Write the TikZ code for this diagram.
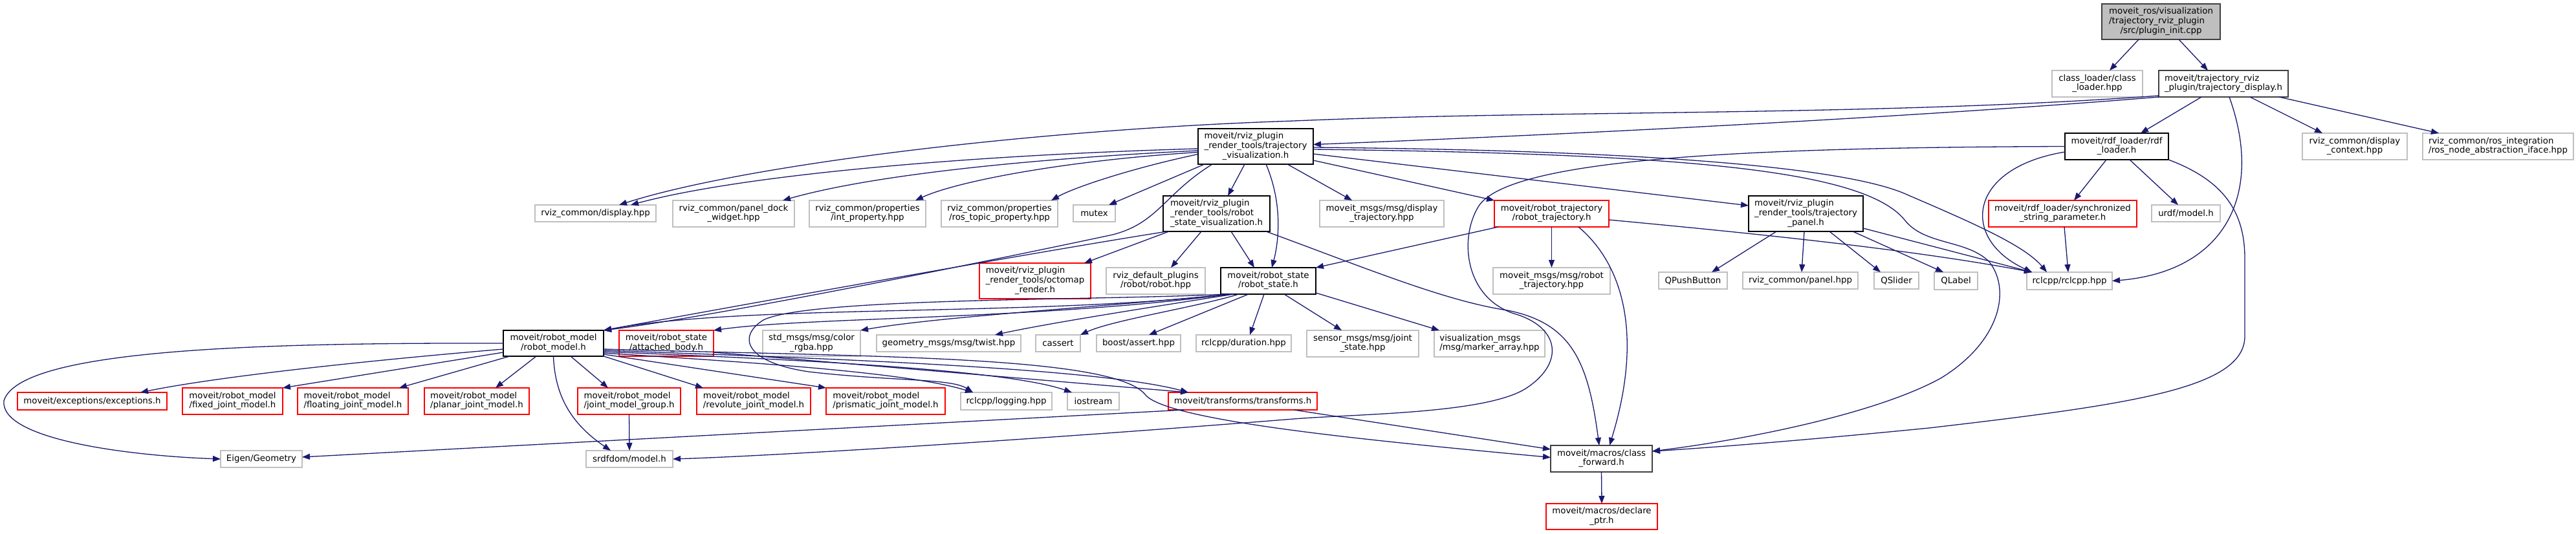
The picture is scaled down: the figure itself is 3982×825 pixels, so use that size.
\documentclass[tikz,border=0pt]{standalone}
\usepackage{fontspec}
\setmainfont{DejaVu Sans}
\usetikzlibrary{arrows.meta}
\definecolor{edgec}{HTML}{191970}
\definecolor{grayb}{HTML}{BFBFBF}
\definecolor{darkb}{HTML}{404040}
\definecolor{mainfill}{HTML}{BFBFBF}
\definecolor{redb}{HTML}{FF0000}
\newcommand\lbtwo[2]{\begin{tabular}{@{}l@{}}#1\\\multicolumn{1}{@{}c@{}}{#2}\end{tabular}}
\newcommand\lbthree[3]{\begin{tabular}{@{}l@{}}#1\\#2\\\multicolumn{1}{@{}c@{}}{#3}\end{tabular}}
\newcommand\mkbox[7]{\node[#1, minimum width={#5-#3}, minimum height={#6-#4}] (#2) at ({(#3+#5)/2},{(#4+#6)/2}) {#7};}
\tikzset{
  nb/.style={draw, rectangle, inner sep=0pt, outer sep=0pt, fill=white, line width=1.3pt,
    font={\fontsize{13.33pt}{14.7pt}\selectfont}},
  gn/.style={nb, draw=grayb, line width=1.5pt},
  bn/.style={nb, draw=black},
  dn/.style={nb, draw=darkb},
  rn/.style={nb, draw=redb},
  mn/.style={nb, draw=darkb, fill=mainfill},
  edg/.style={draw=edgec, line width=1.3pt, -{Triangle[length=12pt,width=9pt]}}
}
\begin{document}
\begin{tikzpicture}[x=1pt,y=-1pt]
\fill[white] (0,0) rectangle (3982,825);
\useasboundingbox (0,0) rectangle (3982,825);
% ---------------- nodes ----------------
\mkbox{mn}{M}{3249}{6}{3432}{61}{\lbthree{moveit\_ros/visualization}{/trajectory\_rviz\_plugin}{/src/plugin\_init.cpp}}
\mkbox{gn}{CL}{3172}{109}{3312}{150}{\lbtwo{class\_loader/class}{\_loader.hpp}}
\mkbox{dn}{TD}{3337}{109}{3537}{150}{\lbtwo{moveit/trajectory\_rviz}{\_plugin/trajectory\_display.h}}
\mkbox{bn}{RL}{3192}{206}{3352}{247}{\lbtwo{moveit/rdf\_loader/rdf}{\_loader.h}}
\mkbox{gn}{DC}{3559}{206}{3721}{247}{\lbtwo{rviz\_common/display}{\_context.hpp}}
\mkbox{gn}{RI}{3745}{206}{3978}{247}{\lbtwo{rviz\_common/ros\_integration}{/ros\_node\_abstraction\_iface.hpp}}
\mkbox{rn}{SS}{3074}{310}{3303}{351}{\lbtwo{moveit/rdf\_loader/synchronized}{\_string\_parameter.h}}
\mkbox{gn}{UM}{3326}{317}{3432}{343}{urdf/model.h}
\mkbox{gn}{RC}{3133}{421}{3265}{448}{rclcpp/rclcpp.hpp}
\mkbox{gn}{QL}{2990}{421}{3057}{448}{QLabel}
\mkbox{gn}{QP}{2564}{421}{2670}{447}{QPushButton}
\mkbox{gn}{PH}{2694}{421}{2872}{447}{rviz\_common/panel.hpp}
\mkbox{gn}{QS}{2897}{421}{2966}{447}{QSlider}
\mkbox{gn}{MRT}{2308}{414}{2489}{455}{\lbtwo{moveit\_msgs/msg/robot}{\_trajectory.hpp}}
\mkbox{gn}{SM}{2020}{511}{2193}{552}{\lbtwo{sensor\_msgs/msg/joint}{\_state.hpp}}
\mkbox{gn}{VM}{2217}{511}{2388}{552}{\lbtwo{visualization\_msgs}{/msg/marker\_array.hpp}}
\mkbox{dn}{CF}{2397}{689}{2554}{730}{\lbtwo{moveit/macros/class}{\_forward.h}}
\mkbox{rn}{DP}{2390}{779}{2562}{819}{\lbtwo{moveit/macros/declare}{\_ptr.h}}
\mkbox{gn}{DT}{2040}{310}{2232}{351}{\lbtwo{moveit\_msgs/msg/display}{\_trajectory.hpp}}
\mkbox{rn}{RT}{2310}{310}{2487}{351}{\lbtwo{moveit/robot\_trajectory}{/robot\_trajectory.h}}
\mkbox{bn}{TP}{2703}{303}{2880}{358}{\lbthree{moveit/rviz\_plugin}{\_render\_tools/trajectory}{\_panel.h}}
\mkbox{bn}{TV}{1852}{199}{2030}{254}{\lbthree{moveit/rviz\_plugin}{\_render\_tools/trajectory}{\_visualization.h}}
\mkbox{gn}{DISP}{827}{317}{1014}{343}{rviz\_common/display.hpp}
\mkbox{gn}{PD}{1040}{310}{1228}{351}{\lbtwo{rviz\_common/panel\_dock}{\_widget.hpp}}
\mkbox{gn}{IP}{1251}{310}{1431}{351}{\lbtwo{rviz\_common/properties}{/int\_property.hpp}}
\mkbox{gn}{RTP}{1455}{310}{1635}{351}{\lbtwo{rviz\_common/properties}{/ros\_topic\_property.hpp}}
\mkbox{gn}{MX}{1659}{317}{1724}{343}{mutex}
\mkbox{bn}{RSV}{1798}{303}{1963}{358}{\lbthree{moveit/rviz\_plugin}{\_render\_tools/robot}{\_state\_visualization.h}}
\mkbox{rn}{OR}{1514}{407}{1686}{462}{\lbthree{moveit/rviz\_plugin}{\_render\_tools/octomap}{\_render.h}}
\mkbox{gn}{RDP}{1710}{414}{1863}{455}{\lbtwo{rviz\_default\_plugins}{/robot/robot.hpp}}
\mkbox{bn}{RS}{1887}{414}{2034}{455}{\lbtwo{moveit/robot\_state}{/robot\_state.h}}
\mkbox{rn}{AB}{957}{511}{1103}{551}{\lbtwo{moveit/robot\_state}{/attached\_body.h}}
\mkbox{gn}{CR}{1179}{511}{1330}{551}{\lbtwo{std\_msgs/msg/color}{\_rgba.hpp}}
\mkbox{gn}{TW}{1355}{518}{1578}{544}{geometry\_msgs/msg/twist.hpp}
\mkbox{gn}{CA}{1601}{518}{1670}{544}{cassert}
\mkbox{gn}{BA}{1695}{518}{1825}{544}{boost/assert.hpp}
\mkbox{gn}{DU}{1849}{518}{1996}{544}{rclcpp/duration.hpp}
\mkbox{rn}{RJ}{1077}{600}{1253}{641}{\lbtwo{moveit/robot\_model}{/revolute\_joint\_model.h}}
\mkbox{rn}{PJ}{1277}{600}{1461}{641}{\lbtwo{moveit/robot\_model}{/prismatic\_joint\_model.h}}
\mkbox{gn}{LG}{1485}{607}{1626}{634}{rclcpp/logging.hpp}
\mkbox{gn}{IO}{1650}{607}{1730}{634}{iostream}
\mkbox{rn}{TF}{1806}{607}{2036}{634}{moveit/transforms/transforms.h}
\mkbox{gn}{SR}{906}{697}{1040}{723}{srdfdom/model.h}
\mkbox{bn}{RM}{778}{511}{933}{551}{\lbtwo{moveit/robot\_model}{/robot\_model.h}}
\mkbox{rn}{EX}{27}{607}{258}{634}{moveit/exceptions/exceptions.h}
\mkbox{rn}{FJ}{282}{600}{437}{641}{\lbtwo{moveit/robot\_model}{/fixed\_joint\_model.h}}
\mkbox{rn}{FL}{460}{600}{631}{641}{\lbtwo{moveit/robot\_model}{/floating\_joint\_model.h}}
\mkbox{rn}{PL}{656}{600}{818}{641}{\lbtwo{moveit/robot\_model}{/planar\_joint\_model.h}}
\mkbox{rn}{JMG}{893}{600}{1052}{641}{\lbtwo{moveit/robot\_model}{/joint\_model\_group.h}}
\mkbox{gn}{EG}{341}{697}{467}{723}{Eigen/Geometry}
% ---------------- edges ----------------
% main
\draw[edg] ([xshift=-34.5pt]M.south) -- ([xshift=19pt]CL.north);
\draw[edg] ([xshift=27.5pt]M.south) -- ([xshift=-24pt]TD.north);
% trajectory_display
\draw[edg] (TD.south west) .. controls (3000,178) and (2500,205) .. ([yshift=3pt]TV.east);
\draw[edg] ([yshift=2pt]TD.south west) .. controls (2900,180) and (2400,170) .. (2000,187) .. controls (1600,200) and (1150,255) .. ([xshift=36.5pt]DISP.north);
\draw[edg] ([xshift=-34pt]TD.south) -- ([xshift=37pt]RL.north);
\draw[edg] ([xshift=41pt]TD.south) -- ([xshift=-50pt]DC.north);
\draw[edg] ([xshift=86pt]TD.south) -- ([xshift=-91.5pt]RI.north);
\draw[edg] ([xshift=9pt]TD.south) .. controls (3500,300) and (3440,420) .. (RC.east);
% rdf_loader
\draw[edg] (RL.west) .. controls (2700,228) and (2330,245) .. (2285,320) .. controls (2255,370) and (2265,460) .. (2340,485) .. controls (2410,505) and (2420,560) .. (2360,600) .. controls (2300,640) and (2100,640) .. (2000,648) .. controls (1600,680) and (1200,705) .. (SR.east);
\draw[edg] ([xshift=-16pt]RL.south) -- ([xshift=17.5pt]SS.north);
\draw[edg] ([xshift=20pt]RL.south) -- ([xshift=-12pt]UM.north);
\draw[edg] ([yshift=-8.5pt]RL.west) .. controls (3040,260) and (3030,370) .. ([xshift=8pt]RC.north west);
\draw[edg] (RL.south east) .. controls (3440,280) and (3470,330) .. (3470,400) -- (3470,520) .. controls (3470,600) and (3300,625) .. (2982,662) .. controls (2800,680) and (2650,692) .. ([yshift=11.5pt]CF.east);
% synchronized_string_parameter
\draw[edg] ([xshift=2.5pt]SS.south) -- ([xshift=-2pt]RC.north);
% trajectory_visualization
\draw[edg] ([yshift=-3.5pt]TV.west) .. controls (1500,240) and (1150,270) .. ([xshift=54.5pt]DISP.north);
\draw[edg] ([yshift=-6.5pt]TV.west) .. controls (1600,245) and (1350,270) .. ([xshift=76pt]PD.north);
\draw[edg] ([yshift=-9pt]TV.west) .. controls (1650,248) and (1480,280) .. ([xshift=74pt]IP.north);
\draw[edg] ([yshift=-12pt]TV.west) .. controls (1750,260) and (1660,290) .. ([xshift=80pt]RTP.north);
\draw[edg] ([xshift=10pt]TV.south west) -- ([xshift=22.5pt]MX.north);
\draw[edg] ([xshift=22pt]TV.south west) .. controls (1800,300) and (1790,345) .. (1720,363) .. controls (1500,410) and (1100,490) .. (RM.north east);
\draw[edg] ([xshift=-17pt]TV.south) -- ([xshift=17.5pt]RSV.north);
\draw[edg] ([xshift=16pt]TV.south) .. controls (1985,320) and (1975,380) .. ([xshift=5.5pt]RS.north);
\draw[edg] ([xshift=49pt]TV.south) -- ([xshift=-46pt]DT.north);
\draw[edg] ([yshift=-21.5pt]TV.east) -- (RT.north west);
\draw[edg] ([yshift=-11.5pt]TV.east) -- ([yshift=12.5pt]TP.west);
\draw[edg] ([yshift=-1.5pt]TV.east) .. controls (2500,232) and (2850,255) .. (2950,302) .. controls (3050,345) and (3130,380) .. ([xshift=31pt]RC.north west);
\draw[edg] ([yshift=-4.5pt]TV.east) .. controls (2600,238) and (2880,262) .. (2944,340) .. controls (2975,380) and (3040,370) .. (3075,405) .. controls (3110,450) and (3090,530) .. (3000,585) .. controls (2900,640) and (2700,680) .. ([yshift=11.5pt]CF.east);
% robot_state_visualization
\draw[edg] ([xshift=9pt]RSV.south west) -- ([xshift=-10pt]OR.north east);
\draw[edg] ([xshift=-23.5pt]RSV.south) -- ([xshift=23.5pt]RDP.north);
\draw[edg] ([xshift=22.5pt]RSV.south) -- ([xshift=-21.5pt]RS.north);
\draw[edg] ([xshift=-6pt]RSV.south east) .. controls (2100,410) and (2230,465) .. (2330,480) .. controls (2430,500) and (2455,560) .. ([xshift=-3.5pt]CF.north);
\draw[edg] ([xshift=6pt]RSV.south west) .. controls (1600,390) and (1100,480) .. (RM.north east);
% robot_trajectory
\draw[edg] ([xshift=6pt]RT.south west) -- (RS.north east);
\draw[edg] (RT.south) -- (MRT.north);
\draw[edg] ([xshift=41.5pt]RT.south) .. controls (2510,410) and (2540,520) .. ([xshift=12.5pt]CF.north);
\draw[edg] ([yshift=-9.5pt]RT.east) .. controls (2700,360) and (2950,385) .. ([xshift=8pt]RC.north west);
% trajectory_panel
\draw[edg] ([xshift=-45.5pt]TP.south) -- ([xshift=29pt]QP.north);
\draw[edg] ([xshift=-2.5pt]TP.south) -- ([xshift=2pt]PH.north);
\draw[edg] ([xshift=36.5pt]TP.south) -- ([xshift=-24.5pt]QS.north);
\draw[edg] ([xshift=72.5pt]TP.south) -- ([xshift=-19.5pt]QL.north);
\draw[edg] ([yshift=-22.5pt]TP.east) -- ([xshift=8pt]RC.north west);
% robot_state
\draw[edg] ([xshift=13pt]RS.south west) .. controls (1600,490) and (1150,470) .. (RM.north east);
\draw[edg] ([xshift=14pt]RS.south west) .. controls (1600,495) and (1250,490) .. (AB.north east);
\draw[edg] ([xshift=16pt]RS.south west) .. controls (1700,475) and (1450,490) .. (CR.north east);
\draw[edg] ([xshift=20pt]RS.south west) .. controls (1780,475) and (1620,500) .. ([xshift=71.5pt]TW.north);
\draw[edg] ([xshift=28pt]RS.south west) .. controls (1850,475) and (1720,495) .. (CA.north east);
\draw[edg] ([xshift=43pt]RS.south west) -- ([xshift=16pt]BA.north);
\draw[edg] ([xshift=-6.5pt]RS.south) -- ([xshift=9.5pt]DU.north);
\draw[edg] ([xshift=24.5pt]RS.south) -- ([xshift=-32.5pt]SM.north);
\draw[edg] ([yshift=2pt]RS.south east) -- ([xshift=8pt]VM.north west);
\draw[edg] ([xshift=8pt]RS.south west) .. controls (1700,465) and (1250,460) .. (1180,495) .. controls (1140,520) and (1150,560) .. (1250,575) .. controls (1380,590) and (1470,585) .. ([xshift=19pt]LG.north west);
% robot_model
\draw[edg] (RM.west) .. controls (400,530) and (30,540) .. (6,620) .. controls (0,680) and (200,705) .. (EG.west);
\draw[edg] ([yshift=-9pt]RM.west) .. controls (600,555) and (350,580) .. ([xshift=74.5pt]EX.north);
\draw[edg] ([yshift=-14pt]RM.west) -- (FJ.north east);
\draw[edg] ([xshift=10pt]RM.south west) -- ([xshift=-14pt]FL.north east);
\draw[edg] ([xshift=-26.5pt]RM.south) -- ([xshift=29pt]PL.north);
\draw[edg] ([xshift=26.5pt]RM.south) -- ([xshift=-32.5pt]JMG.north);
\draw[edg] (RM.south) .. controls (858,620) and (890,660) .. ([xshift=38pt]SR.north west);
\draw[edg] (RM.south east) -- ([xshift=10pt]RJ.north west);
\draw[edg] ([yshift=-17pt]RM.east) -- (PJ.north west);
\draw[edg] ([yshift=-15pt]RM.east) .. controls (1150,560) and (1400,575) .. ([xshift=19pt]LG.north west);
\draw[edg] ([yshift=-13pt]RM.east) .. controls (1200,555) and (1550,570) .. ([xshift=7pt]IO.north west);
\draw[edg] ([yshift=-11pt]RM.east) .. controls (1300,555) and (1700,570) .. ([xshift=31pt]TF.north west);
\draw[edg] ([yshift=-9pt]RM.east) .. controls (1350,552) and (1720,550) .. (1770,610) .. controls (1800,650) and (2100,680) .. ([yshift=2pt]CF.west);
% joint_model_group
\draw[edg] (JMG.south) -- (SR.north);
% transforms
\draw[edg] ([xshift=24pt]TF.south west) -- ([yshift=3pt]EG.east);
\draw[edg] ([xshift=-36pt]TF.south east) -- ([yshift=14.5pt]CF.west);
% attached_body
\draw[edg] ([yshift=-14pt]AB.east) -- ([xshift=31pt]TF.north west);
% class_forward
\draw[edg] (CF.south) -- (DP.north);
\end{tikzpicture}
\end{document}
